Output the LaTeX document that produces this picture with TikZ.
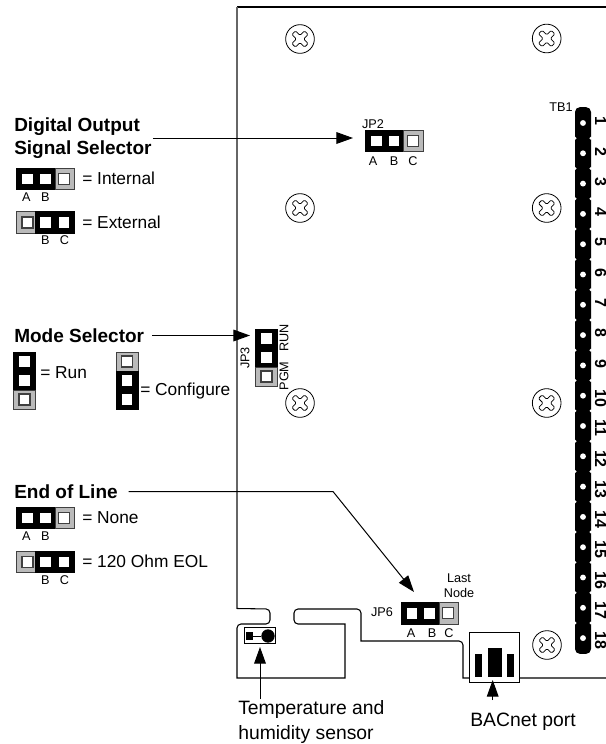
\documentclass[tikz,border=0pt]{standalone}
\usepackage{fontspec}
\setmainfont{Liberation Sans}
\usetikzlibrary{positioning,arrows.meta}

\definecolor{pingray}{gray}{0.73}

\tikzset{
  bigtext/.style={inner sep=0pt, font=\fontsize{14.5pt}{18.7pt}\selectfont, align=left},
  headtext/.style={bigtext, font=\fontsize{14.25pt}{17pt}\selectfont\bfseries},
  midtext/.style={inner sep=0pt, font=\fontsize{13pt}{15pt}\selectfont},
  smalltext/.style={inner sep=0pt, font=\fontsize{9.5pt}{11.2pt}\selectfont, align=center},
  termtext/.style={inner sep=0pt, font=\fontsize{12pt}{14pt}\selectfont\bfseries, rotate=-90, anchor=base west},
  board/.style={line width=0.8pt, rounded corners=3pt},
  callout/.style={-{Triangle[length=12.5pt,width=8.8pt]}, line width=0.75pt},
  pinbase/.style={inner sep=0pt, outer sep=0pt},
  hpin/.style={pinbase, minimum width=14.3pt, minimum height=16.2pt},
  vpin/.style={pinbase, minimum width=16.5pt, minimum height=14.25pt},
  on/.style={fill=black, draw=black, line width=0.5pt, path picture={
      \fill[white] ([shift={(#1-3.9pt,-3.9pt)}]path picture bounding box.center) rectangle ++(7.8pt,7.8pt);}},
  on/.default=0pt,
  off/.style={fill=pingray, draw=black!75, line width=0.5pt, path picture={
      \filldraw[fill=white, draw=black!75, line width=0.9pt] ([shift={(#1-4.1pt,-4.1pt)}]path picture bounding box.center) rectangle ++(8.2pt,8.2pt);}},
  off/.default=0pt,
  screw/.style={circle, draw, line width=0.6pt, minimum size=21.5pt, inner sep=0pt},
  strip/.style={rectangle, fill=black, rounded corners=3.6pt, minimum width=12pt, minimum height=410pt, inner sep=0pt},
  notch/.style={circle, fill=white, minimum size=2.4pt, inner sep=0pt},
  termpin/.style={circle, fill=white, minimum size=4.4pt, inner sep=0pt},
}

% Three pin jumpers: name, centre of first pin, state of pins
\newcommand{\hjumper}[5]{%
  \node[hpin, #3=0.9pt] (#1a) at (#2) {}; %
  \node[hpin, #4=0pt, right=0pt of #1a] (#1b) {}; %
  \node[hpin, #5=-0.3pt, right=0pt of #1b] (#1c) {}; %
}
\newcommand{\vjumper}[5]{%
  \node[vpin, #3] (#1a) at (#2) {}; %
  \node[vpin, #4, below=0pt of #1a] (#1b) {}; %
  \node[vpin, #5, below=0pt of #1b] (#1c) {}; %
}
% Letters under a jumper pin
\newcommand{\pinletter}[3]{\node[smalltext, below=#3 of #1] (#1-#2) {#2};}

\begin{document}
\begin{tikzpicture}[x=0.75pt, y=-0.75pt]

  \useasboundingbox (0,0) rectangle (606,744);

  % Board outline
  \draw[board, sharp corners] (606,7) -- (237,7); %
  \draw[line width=1.1pt, black!60] (237,6.5) -- (237,609); %
  \draw[board, sharp corners] (237,608.5) [rounded corners=3pt] -- (270,609) -- (270,624) -- (237,624) [sharp corners] -- (237,678) -- (345,678) -- (345,624) [rounded corners=3pt] -- (294,624) -- (294,609) -- (361,609) [sharp corners] -- (361,641) [rounded corners=3pt] -- (463,641) [sharp corners] -- (463,678) -- (606,678); %

  % Mounting screws
  \foreach \i/\pos in {1/{300,39}, 2/{546.7,38.5}, 3/{300,208}, 4/{546.7,208}, 5/{300,403}, 6/{546.7,403}, 7/{547,645}} {
    \node[screw] (screw\i) at (\pos) {}; %
    \draw[shift={(screw\i.center)}, rotate=45, rounded corners=0.9pt, line width=0.55pt] (-2.6,-2.6) -- (-2.6,-9) -- (2.6,-9) -- (2.6,-2.6) -- (9,-2.6) -- (9,2.6) -- (2.6,2.6) -- (2.6,9) -- (-2.6,9) -- (-2.6,2.6) -- (-9,2.6) -- (-9,-2.6) -- cycle; %
  }

  % Terminal block
  \node[strip] (tbstrip) at (583,380.5) {}; %
  \foreach \n in {1,...,18} {
    \node[termpin] (tbpin\n) at (583, {123+30.3*(\n-1)}) {}; %
    \node[termtext] (tblabel\n) at (595, {116.5+30.3*(\n-1)}) {\n}; %
  }
  \foreach \n in {1,...,17} {
    \node[notch] (tbnotchl\n) at (575, {138.15+30.3*(\n-1)}) {}; %
    \node[notch] (tbnotchr\n) at (591, {138.15+30.3*(\n-1)}) {}; %
  }
  \node[smalltext] (tbname) at (561,107) {TB1}; %

  % Jumpers on the board
  \hjumper{jpb}{375.2,141}{on}{on}{off} %
  \node[smalltext] (jpbname) at (373,124) {JP2}; %
  \node[smalltext] (jpba-A) at (373,161) {A}; %
  \node[smalltext] (jpbb-B) at (394,161) {B}; %
  \node[smalltext] (jpbc-C) at (413,161) {C}; %

  \vjumper{jpc}{266.5,338.5}{on}{on}{off} %
  \node[smalltext, rotate=90] (jpcname) at (245,358) {JP3}; %
  \node[smalltext, rotate=90] (jpcrun) at (284,338) {RUN}; %
  \node[smalltext, rotate=90] (jpcpgm) at (284,376) {PGM}; %

  \hjumper{jpf}{410.5,613.3}{on}{on}{off} %
  \node[smalltext] (jpfname) at (382,612) {JP6}; %
  \node[smalltext] (jpfa-A) at (411,633) {A}; %
  \node[smalltext] (jpfb-B) at (432,633) {B}; %
  \node[smalltext] (jpfc-C) at (449,633) {C}; %
  \node[smalltext] (lastnode) at (459,585.5) {Last\\Node}; %

  % Digital output selector
  \node[headtext, anchor=west] (dosel) at (14,138) {Digital Output\\Signal Selector}; %
  \hjumper{dia}{26.25,179}{on}{on}{off} %
  \pinletter{diaa}{A}{1.8pt} %
  \pinletter{diab}{B}{1.8pt} %
  \node[midtext, anchor=west] (dialabel) at (82,178) {= Internal}; %
  \hjumper{dib}{26.25,222.5}{off}{on}{on} %
  \pinletter{dibb}{B}{1.8pt} %
  \pinletter{dibc}{C}{1.8pt} %
  \node[midtext, anchor=west] (diblabel) at (82,222) {= External}; %

  % Mode selector
  \node[headtext, anchor=west] (modesel) at (14,335.5) {Mode Selector}; %
  \vjumper{moa}{24.5,361.5}{on}{on}{off} %
  \node[midtext, anchor=west] (moalabel) at (40,373) {= Run}; %
  \vjumper{mob}{127,361.5}{off}{on}{on} %
  \node[midtext, anchor=west] (moblabel) at (140,391) {= Configure}; %

  % End of line
  \node[headtext, anchor=west] (eolsel) at (14,491.5) {End of Line}; %
  \hjumper{eoa}{26.25,518}{on}{on}{off} %
  \pinletter{eoaa}{A}{2.2pt} %
  \pinletter{eoab}{B}{2.2pt} %
  \node[midtext, anchor=west] (eoalabel) at (82,518) {= None}; %
  \hjumper{eob}{26.25,562}{off}{on}{on} %
  \pinletter{eobb}{B}{1.8pt} %
  \pinletter{eobc}{C}{1.8pt} %
  \node[midtext, anchor=west] (eoblabel) at (82,561) {= 120 Ohm EOL}; %

  % Sensor
  \node[draw, line width=0.75pt, minimum width=23pt, minimum height=11.5pt, inner sep=0pt] (sensor) at (260.3,635.5) {}; %
  \node[fill=black, minimum size=5.4pt, inner sep=0pt] (sensora) at (249.5,636) {}; %
  \node[circle, fill=black, minimum size=10pt, inner sep=0pt] (sensorb) at (268,636) {}; %
  \draw[line width=0.75pt] (sensora) -- (sensorb); %
  \node[bigtext, anchor=north west] (sensorlabel) at (238,700) {Temperature and\\humidity sensor}; %

  % BACnet port
  \node[draw, fill=white, line width=0.75pt, minimum width=38pt, minimum height=37.5pt, inner sep=0pt] (port) at (494.5,657) {}; %
  \fill (475,654) rectangle (482.3,677); %
  \fill (487.7,647.7) rectangle (501.7,677); %
  \fill (506.7,654) rectangle (514.3,677); %
  \node[bigtext] (portlabel) at (523,722) {BACnet port}; %

  % Arrow ends
  \coordinate (jpbtip) at (353,138); %
  \coordinate (jpctip) at (250,335.5); %
  \coordinate (eolbend) at (333,491.5); %
  \coordinate (jpftip) at (414,592); %
  \coordinate (sensortip) at (260,647); %
  \coordinate (porttip) at (492.7,680); %
  \coordinate (sensorfoot) at (260,699); %
  \coordinate (portfoot) at (492.7,700); %

  % Connectors
  \draw[callout, shorten <=0.8pt] (dosel.east) -- (jpbtip); %
  \draw[callout, shorten <=6pt] (modesel.east) -- (jpctip); %
  \draw[callout, shorten <=8pt] (eolsel.east) -- (eolbend) -- (jpftip); %
  \draw[callout] (sensorfoot) -- (sensortip); %
  \draw[callout] (portfoot) -- (porttip); %

\end{tikzpicture}
\end{document}
